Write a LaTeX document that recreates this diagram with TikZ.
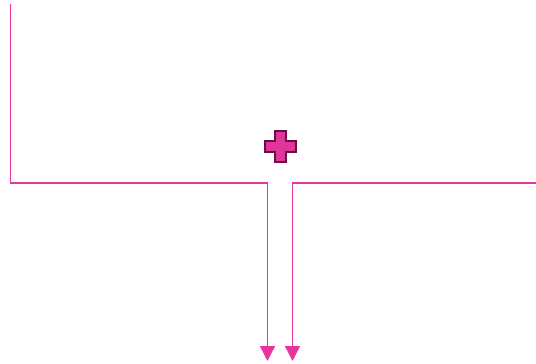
\documentclass[tikz,border=0pt]{standalone}
\usetikzlibrary{arrows.meta}
\definecolor{pinkline}{HTML}{E8359E}
\definecolor{plusfill}{HTML}{E0359B}
\definecolor{plusedge}{HTML}{6A0F45}
\tikzset{
  flow/.style={draw=pinkline, line width=1.3pt},
  flowarrow/.style={flow, -{Triangle[width=15pt,length=15pt]}},
  plussign/.style={fill=plusfill, draw=plusedge, line width=2pt, line join=miter}
}
\begin{document}
\begin{tikzpicture}[x=1pt,y=-1pt]
\useasboundingbox (0,0) rectangle (536,364);
\coordinate (ltop) at (10.5,4);
\coordinate (lcorner) at (10.5,183);
\coordinate (ljoin) at (267.5,183);
\coordinate (lend) at (267.5,361);
\coordinate (rstart) at (536,183);
\coordinate (rjoin) at (292.5,183);
\coordinate (rend) at (292.5,361);
\coordinate (plus) at (280,146);
\draw[flowarrow] (ltop) -- (lcorner) -- (ljoin) -- (lend);
\draw[flowarrow] (rstart) -- (rjoin) -- (rend);
\draw[plussign] ([shift={(-5.5,-15.5)}]plus) -- ++(11,0) -- ++(0,10) -- ++(10,0) -- ++(0,11) -- ++(-10,0) -- ++(0,10) -- ++(-11,0) -- ++(0,-10) -- ++(-10,0) -- ++(0,-11) -- ++(10,0) -- cycle;
\end{tikzpicture}
\end{document}
